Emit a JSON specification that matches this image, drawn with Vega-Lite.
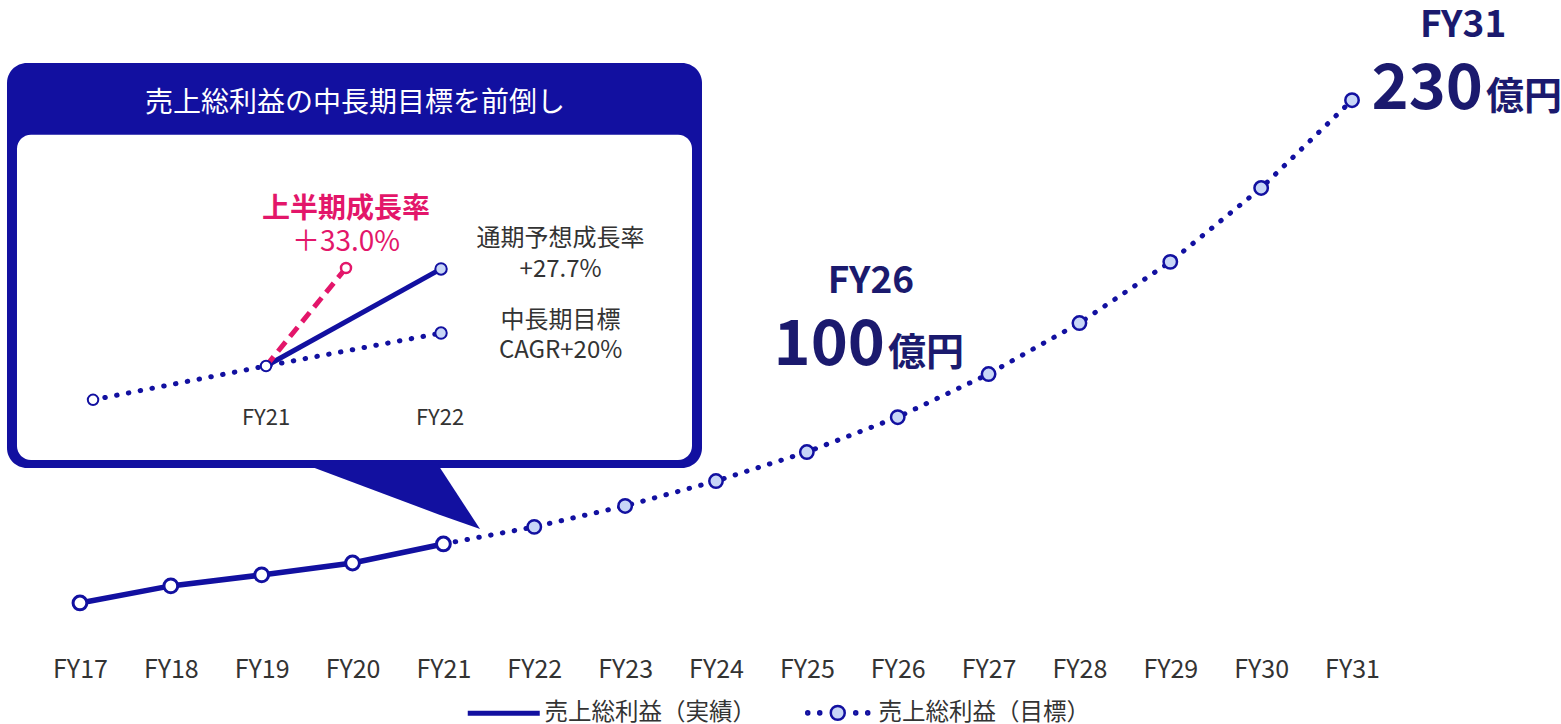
{
  "$schema": "https://vega.github.io/schema/vega-lite/v6.json",
  "width": 1561,
  "height": 661,
  "autosize": {"type": "none"},
  "padding": {"left": 0, "top": 0, "right": 0, "bottom": 63},
  "background": "white",
  "config": {"view": {"stroke": null}, "font": "Noto Sans CJK JP"},
  "datasets": {
    "main": [
      {"x": 17, "y": 23.8, "s": "売上総利益（実績）"},
      {"x": 18, "y": 30.8, "s": "売上総利益（実績）"},
      {"x": 19, "y": 35.3, "s": "売上総利益（実績）"},
      {"x": 20, "y": 40.2, "s": "売上総利益（実績）"},
      {"x": 21, "y": 48.0, "s": "売上総利益（実績）"},
      {"x": 21, "y": 48.0, "s": "売上総利益（目標）"},
      {"x": 22, "y": 55.0, "s": "売上総利益（目標）"},
      {"x": 23, "y": 63.6, "s": "売上総利益（目標）"},
      {"x": 24, "y": 73.8, "s": "売上総利益（目標）"},
      {"x": 25, "y": 85.7, "s": "売上総利益（目標）"},
      {"x": 26, "y": 100, "s": "売上総利益（目標）"},
      {"x": 27, "y": 117.7, "s": "売上総利益（目標）"},
      {"x": 28, "y": 138.6, "s": "売上総利益（目標）"},
      {"x": 29, "y": 163.7, "s": "売上総利益（目標）"},
      {"x": 30, "y": 194.0, "s": "売上総利益（目標）"},
      {"x": 31, "y": 230, "s": "売上総利益（目標）"}
    ]
  },
  "encoding": {
    "x": {
      "field": "x", "type": "quantitative",
      "scale": {"domain": [16.12, 33.3], "nice": false, "zero": false},
      "axis": {
        "values": [17, 18, 19, 20, 21, 22, 23, 24, 25, 26, 27, 28, 29, 30, 31],
        "labelExpr": "'FY' + datum.value",
        "grid": false, "domain": false, "ticks": false, "title": null,
        "labelFontSize": 25, "labelColor": "#333333", "labelPadding": 8,
        "labelBaseline": "middle", "labelFlush": false, "labelOverlap": false,
        "labelFont": "Noto Sans CJK JP"
      }
    },
    "y": {
      "field": "y", "type": "quantitative",
      "scale": {"domain": [0, 271.1], "nice": false, "zero": false},
      "axis": null
    }
  },
  "layer": [
    {
      "data": {"values": [{"x": 16.197, "xe": 23.846, "y": 79.2, "ye": 245.3}]},
      "mark": {"type": "rect", "color": "#1210a0", "cornerRadius": 20},
      "encoding": {"x2": {"field": "xe"}, "y2": {"field": "ye"}}
    },
    {
      "data": {"values": [
        {"x": 19.488, "y": 80.5, "ye": 80.5},
        {"x": 20.941, "y": 80.5, "ye": 60.2},
        {"x": 21.403, "y": 54.1, "ye": 54.1}
      ]},
      "mark": {"type": "area", "color": "#1210a0", "interpolate": "linear"},
      "encoding": {"y2": {"field": "ye"}}
    },
    {
      "data": {"values": [{"x": 16.307, "xe": 23.736, "y": 82.4, "ye": 215.8}]},
      "mark": {"type": "rect", "color": "white", "cornerRadius": 14},
      "encoding": {"x2": {"field": "xe"}, "y2": {"field": "ye"}}
    },
    {
      "data": {"values": [{"x": 20.027, "y": 225.2, "t": "売上総利益の中長期目標を前倒し"}]},
      "mark": {"type": "text", "color": "white", "fontSize": 28, "align": "center", "baseline": "alphabetic", "font": "Noto Sans CJK JP"},
      "encoding": {"text": {"field": "t"}}
    },
    {
      "data": {"values": [
        {"x": 17.144, "y": 107.1},
        {"x": 19.048, "y": 121.0},
        {"x": 20.974, "y": 134.5}
      ]},
      "mark": {"type": "line", "color": "#1210a0", "strokeWidth": 5, "strokeDash": [0.5, 11.5], "strokeCap": "round"}
    },
    {
      "data": {"values": [
        {"x": 19.048, "y": 121.0},
        {"x": 20.974, "y": 160.8}
      ]},
      "mark": {"type": "line", "color": "#1210a0", "strokeWidth": 5}
    },
    {
      "data": {"values": [
        {"x": 19.048, "y": 121.0},
        {"x": 19.928, "y": 161.2}
      ]},
      "mark": {"type": "line", "color": "#e3166a", "strokeWidth": 5, "strokeDash": [12, 7]}
    },
    {
      "data": {"values": [{"x": 17.144, "y": 107.1}, {"x": 19.048, "y": 121.0}]},
      "mark": {"type": "point", "shape": "circle", "filled": false, "fill": "white", "fillOpacity": 1, "stroke": "#1210a0", "strokeWidth": 2, "size": 110, "opacity": 1}
    },
    {
      "data": {"values": [{"x": 20.974, "y": 134.5}, {"x": 20.974, "y": 160.8}]},
      "mark": {"type": "point", "shape": "circle", "filled": false, "fill": "#c8d6f7", "fillOpacity": 1, "stroke": "#1210a0", "strokeWidth": 2, "size": 130, "opacity": 1}
    },
    {
      "data": {"values": [{"x": 19.928, "y": 161.2}]},
      "mark": {"type": "point", "shape": "circle", "filled": false, "fill": "white", "fillOpacity": 1, "stroke": "#e3166a", "strokeWidth": 2.5, "size": 100, "opacity": 1}
    },
    {
      "data": {"values": [{"x": 19.048, "y": 96.8, "t": "FY21"}, {"x": 20.963, "y": 96.8, "t": "FY22"}]},
      "mark": {"type": "text", "color": "#333333", "fontSize": 22, "align": "center", "baseline": "alphabetic"},
      "encoding": {"text": {"field": "t"}}
    },
    {
      "data": {"values": [{"x": 19.928, "y": 181.7, "t": "上半期成長率"}]},
      "mark": {"type": "text", "color": "#e3166a", "fontSize": 28, "fontWeight": "bold", "align": "center", "baseline": "alphabetic"},
      "encoding": {"text": {"field": "t"}}
    },
    {
      "data": {"values": [{"x": 19.928, "y": 168.2, "t": "＋33.0%"}]},
      "mark": {"type": "text", "color": "#e3166a", "fontSize": 28, "align": "center", "baseline": "alphabetic"},
      "encoding": {"text": {"field": "t"}}
    },
    {
      "data": {"values": [
        {"x": 22.29, "y": 170.2, "t": "通期予想成長率"},
        {"x": 22.29, "y": 157.5, "t": "+27.7%"},
        {"x": 22.29, "y": 136.6, "t": "中長期目標"},
        {"x": 22.29, "y": 124.3, "t": "CAGR+20%"}
      ]},
      "mark": {"type": "text", "color": "#333333", "fontSize": 24, "align": "center", "baseline": "alphabetic"},
      "encoding": {"text": {"field": "t"}}
    },
    {
      "data": {"name": "main"},
      "transform": [{"filter": "datum.s == '売上総利益（実績）'"}],
      "mark": {"type": "line", "strokeWidth": 5.5},
      "encoding": {
        "color": {
          "field": "s", "type": "nominal",
          "scale": {"domain": ["売上総利益（実績）", "売上総利益（目標）"], "range": ["#1210a0", "#1210a0"]},
          "legend": {
            "orient": "none", "legendX": 492, "legendY": 701, "direction": "horizontal",
            "title": null, "labelFontSize": 23.5, "labelColor": "#333333", "labelFont": "Noto Sans CJK JP",
            "labelLimit": 0,
            "symbolSize": 5184, "symbolType": "stroke", "symbolStrokeWidth": 5,
            "labelOffset": 29, "columnPadding": 45, "padding": 0,
            "encode": {
              "symbols": {
                "update": {
                  "shape": {"signal": "datum.value == '売上総利益（実績）' ? 'stroke' : 'M-0.875,0A0.042,0.042 0 1,0 -0.791,0A0.042,0.042 0 1,0 -0.875,0Z M-0.542,0A0.042,0.042 0 1,0 -0.458,0A0.042,0.042 0 1,0 -0.542,0Z M-0.194,0A0.194,0.194 0 1,0 0.194,0A0.194,0.194 0 1,0 -0.194,0Z M0.458,0A0.042,0.042 0 1,0 0.542,0A0.042,0.042 0 1,0 0.458,0Z M0.791,0A0.042,0.042 0 1,0 0.875,0A0.042,0.042 0 1,0 0.791,0Z'"},
                  "strokeWidth": {"signal": "datum.value == '売上総利益（実績）' ? 5 : 2.5"},
                  "fill": {"signal": "datum.value == '売上総利益（実績）' ? 'transparent' : '#c8d6f7'"},
                  "stroke": {"value": "#1210a0"},
                  "strokeDash": {"value": []},
                  "opacity": {"value": 1}
                }
              }
            }
          }
        }
      }
    },
    {
      "data": {"name": "main"},
      "transform": [{"filter": "datum.s == '売上総利益（目標）'"}],
      "mark": {"type": "line", "strokeWidth": 5, "strokeDash": [0.5, 11.5], "strokeCap": "round"},
      "encoding": {"color": {"field": "s", "type": "nominal"}}
    },
    {
      "data": {"name": "main"},
      "transform": [{"filter": "datum.s == '売上総利益（実績）'"}],
      "mark": {"type": "point", "shape": "circle", "filled": false, "fill": "white", "fillOpacity": 1, "stroke": "#1210a0", "strokeWidth": 3, "size": 190, "opacity": 1}
    },
    {
      "data": {"name": "main"},
      "transform": [{"filter": "datum.s == '売上総利益（目標）' && datum.x > 21"}],
      "mark": {"type": "point", "shape": "circle", "filled": false, "fill": "#c8d6f7", "fillOpacity": 1, "stroke": "#1210a0", "strokeWidth": 2.5, "size": 180, "opacity": 1}
    },
    {
      "data": {"values": [{"x": 25.706, "y": 150.9, "t": "FY26"}, {"x": 32.222, "y": 255.9, "t": "FY31"}]},
      "mark": {"type": "text", "color": "#1b1a6e", "fontSize": 37, "fontWeight": "bold", "align": "center", "baseline": "alphabetic"},
      "encoding": {"text": {"field": "t"}}
    },
    {
      "data": {"values": [{"x": 25.86, "y": 121.4, "t": "100"}, {"x": 32.442, "y": 226.4, "t": "230"}]},
      "mark": {"type": "text", "color": "#1b1a6e", "fontSize": 63, "fontWeight": "bold", "align": "right", "baseline": "alphabetic"},
      "encoding": {"text": {"field": "t"}}
    },
    {
      "data": {"values": [{"x": 25.893, "y": 121.4, "t": "億円"}, {"x": 32.475, "y": 226.4, "t": "億円"}]},
      "mark": {"type": "text", "color": "#1b1a6e", "fontSize": 38, "fontWeight": "bold", "align": "left", "baseline": "alphabetic"},
      "encoding": {"text": {"field": "t"}}
    }
  ]
}
